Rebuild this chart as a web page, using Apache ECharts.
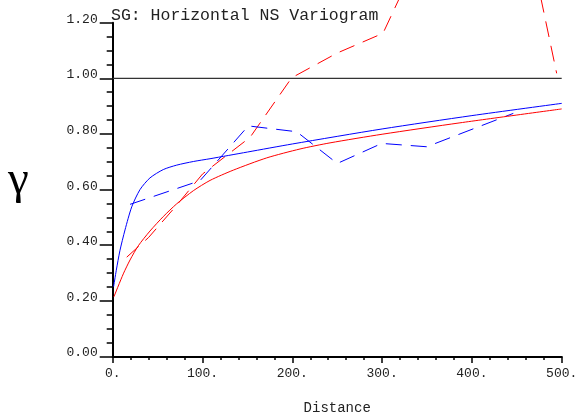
<!DOCTYPE html>
<html>
<head>
<meta charset="utf-8">
<script src="https://cdn.jsdelivr.net/npm/echarts@6/dist/echarts.min.js"></script>
<style>
html,body{margin:0;padding:0;background:#fff;overflow:hidden;}
#chart{width:577px;height:414px;}
</style>
</head>
<body>
<div id="chart"></div>
<script>
// Experimental variogram (red, dashed)
var redExpX = [15.6, 40, 70, 100, 153, 199.3, 250, 301, 350, 400, 450, 494.4];
var redExpY = [0.357, 0.428, 0.539, 0.656, 0.788, 1.002, 1.091, 1.162, 1.50, 1.65, 1.70, 1.018];
// Experimental variogram (blue, dashed)
var blueExpX = [19.3, 97.2, 151, 204.9, 250.1, 299.6, 349.7, 446.1];
var blueExpY = [0.547, 0.632, 0.829, 0.808, 0.694, 0.766, 0.754, 0.874];
// Model curves
var blueModX = [1, 4, 8, 13.7, 21.2, 30.4, 41.5, 56.3, 71.3, 89.8, 108.4, 150, 200, 300, 400, 500];
var blueModY = [0.251, 0.310, 0.380, 0.455, 0.538, 0.600, 0.642, 0.672, 0.688, 0.701, 0.711, 0.735, 0.764, 0.818, 0.866, 0.910];
var redModX = [1.4, 11.8, 19.3, 28.5, 41.5, 56.3, 71.3, 89.8, 108.4, 134.3, 171.5, 208.6, 242, 300, 386.7, 500];
var redModY = [0.215, 0.297, 0.347, 0.398, 0.451, 0.503, 0.549, 0.596, 0.633, 0.670, 0.714, 0.746, 0.768, 0.799, 0.840, 0.890];
// Sill
var sillX = [0, 500];
var sillY = [1.0, 1.0];
var yTicks = [0, 0.2, 0.4, 0.6, 0.8, 1.0, 1.2];
var xTicks = [0, 100, 200, 300, 400, 500];

function pairs(xs, ys){ return xs.map(function(x,i){ return [x, ys[i]]; }); }

var mono = '"Liberation Mono", "Courier New", monospace';
var chart = echarts.init(document.getElementById('chart'), null, {renderer:'canvas'});
chart.setOption({
  animation: false,
  backgroundColor: '#ffffff',
  title: {
    text: 'SG: Horizontal NS Variogram',
    left: 111, top: 7, padding: 0,
    textStyle: {fontFamily: mono, fontSize: 16.5, fontWeight: 'normal', color: '#222'}
  },
  graphic: [{
    type: 'text', left: 8, top: 157,
    style: {text: 'γ', font: '47px "Liberation Serif", "Times New Roman", serif', fill: '#000'}
  }],
  grid: {left: 112.7, right: 15.3, top: 22.7, bottom: 57.5, containLabel: false, outerBoundsMode: 'none'},
  xAxis: {
    type: 'value', min: xTicks[0], max: xTicks[xTicks.length-1], interval: 100,
    name: 'Distance', nameLocation: 'middle', nameGap: 45,
    nameTextStyle: {fontFamily: mono, fontSize: 14, color: '#222'},
    axisLine: {show: true, onZero: false, lineStyle: {color: '#000', width: 2}},
    axisTick: {show: true, length: 6.5, lineStyle: {color: '#000', width: 1.5}},
    minorTick: {show: true, splitNumber: 5, length: 3.5, lineStyle: {color: '#000', width: 1.5}},
    axisLabel: {fontFamily: mono, fontSize: 13, color: '#222', margin: 11,
      formatter: function(v){ return v + '.'; }},
    splitLine: {show: false}
  },
  yAxis: {
    type: 'value', min: yTicks[0], max: yTicks[yTicks.length-1], interval: 0.2,
    axisLine: {show: true, onZero: false, lineStyle: {color: '#000', width: 2}},
    axisTick: {show: true, length: 13, lineStyle: {color: '#000', width: 1.5}},
    minorTick: {show: true, splitNumber: 4, length: 6, lineStyle: {color: '#000', width: 1.5}},
    axisLabel: {fontFamily: mono, fontSize: 13, color: '#222', margin: 15,
      verticalAlign: 'bottom', lineHeight: 7,
      formatter: function(v){ return v.toFixed(2); }},
    splitLine: {show: false}
  },
  series: [
    {type: 'line', data: pairs(sillX, sillY), symbol: 'none', clip: false,
     lineStyle: {color: '#333', width: 1.3}},
    {type: 'line', data: pairs(redExpX, redExpY), symbol: 'none', clip: false,
     lineStyle: {color: '#ff0000', width: 1, type: [16, 9]}},
    {type: 'line', data: pairs(blueExpX, blueExpY), symbol: 'none', clip: false,
     lineStyle: {color: '#0000ff', width: 1, type: [16, 9]}},
    {type: 'line', data: pairs(redModX, redModY), symbol: 'none', clip: false,
     smooth: 0.25,
     lineStyle: {color: '#ff0000', width: 1}},
    {type: 'line', data: pairs(blueModX, blueModY), symbol: 'none', clip: false,
     smooth: 0.25,
     lineStyle: {color: '#0000ff', width: 1}}
  ]
});
</script>
</body>
</html>
